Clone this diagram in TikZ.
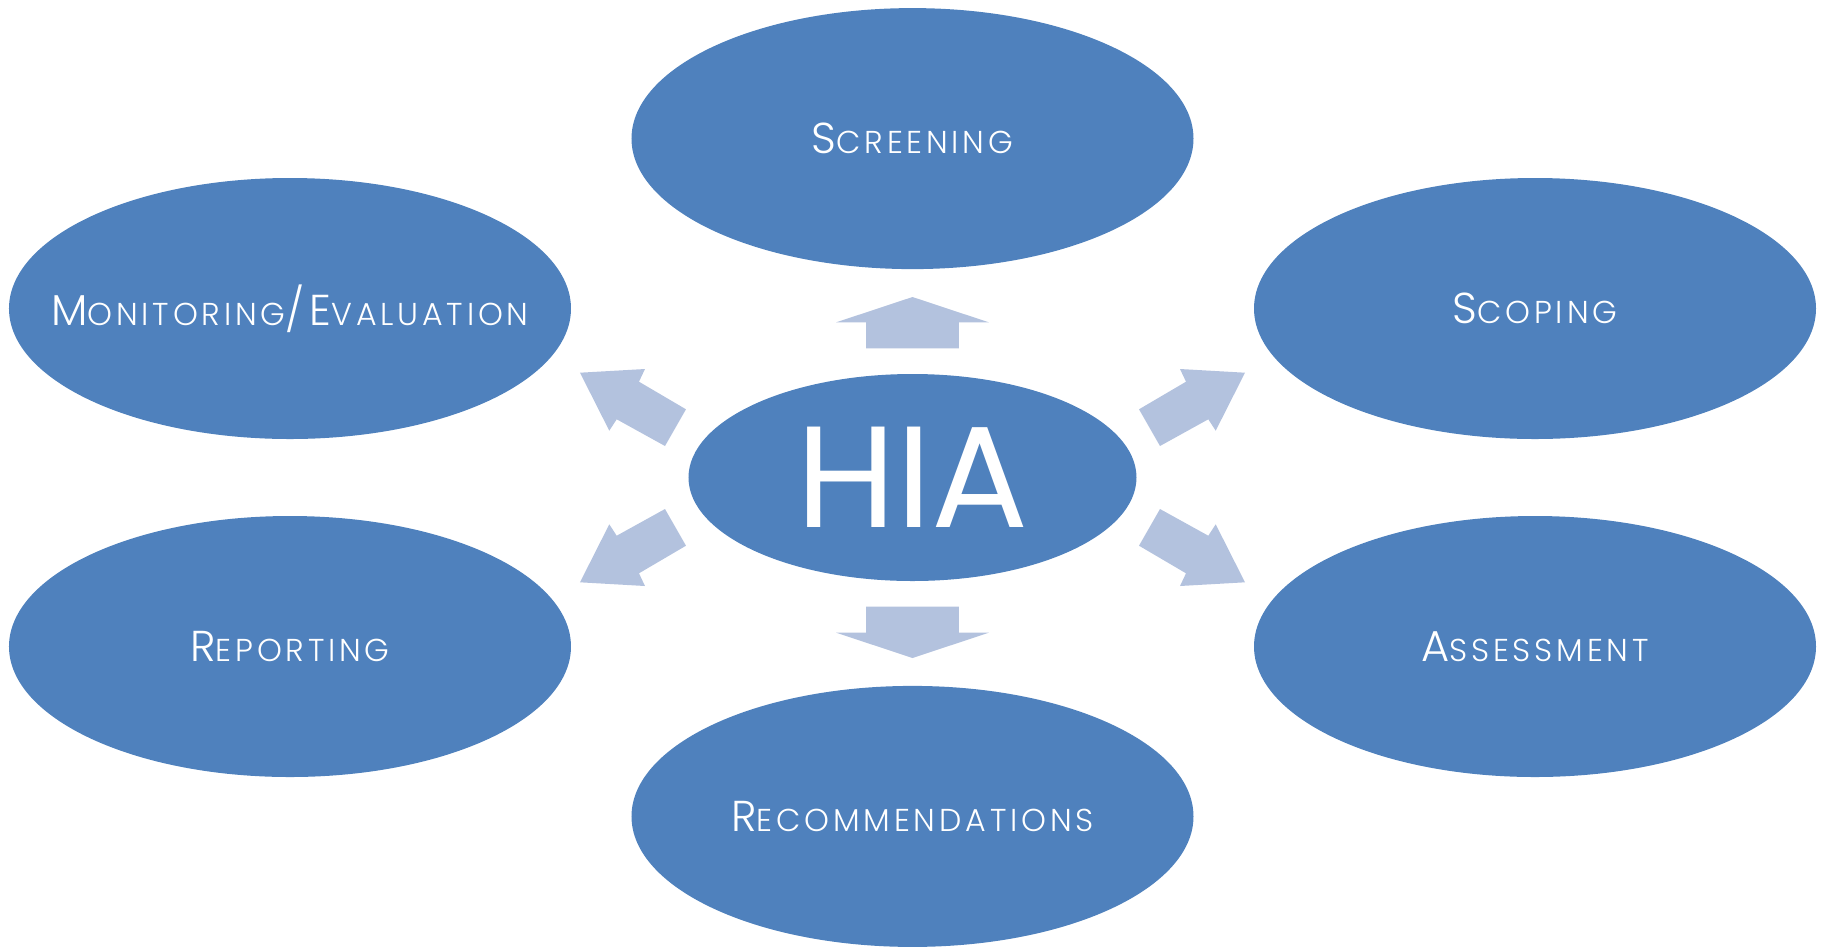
\documentclass[tikz,border=0pt]{standalone}
\usepackage{fontspec}
\setmainfont{Poppins}
\newfontfamily\stagefont[LetterSpace=12,UprightFont=* Light]{Poppins}
\usetikzlibrary{positioning,shapes.geometric}
\definecolor{stageblue}{HTML}{4F81BD}
\definecolor{arrowblue}{HTML}{B3C2DE}
% small caps by hand: first letter big, rest small
\newcommand{\smcap}[2]{{\fontsize{12.3}{14}\selectfont #1}{\fontsize{9}{11}\selectfont #2}}
\tikzset{
    %Define style for the outer stages
    stage/.style={
           ellipse,
           fill=stageblue,
           text=white,
           font=\stagefont,
           minimum width=5.62cm,
           minimum height=2.61cm,
           inner sep=0pt,
           text centered},
    %Define style for the centre
    hub/.style={
           stage,
           font=\rmfamily,
           minimum width=4.48cm,
           minimum height=2.07cm},
    blockarrow/.style={fill=arrowblue, draw=none},
    % block arrows, drawn round the centre
    diagarrow/.pic={
        \fill[blockarrow] (2.265,0.682) -- (2.475,0.315) -- (2.958,0.582)
            -- (3.032,0.468) -- (3.325,1.048) -- (2.675,1.085) -- (2.735,0.958) -- cycle;},
    vertarrow/.pic={
        \fill[blockarrow] (-0.463,1.292) -- (0.463,1.292) -- (0.463,1.552)
            -- (0.763,1.552) -- (0,1.805) -- (-0.763,1.552) -- (-0.463,1.552) -- cycle;}
}
\begin{document}
\begin{tikzpicture}
\useasboundingbox (-9.125,-4.685) rectangle (9.125,4.775);
 %nodes
\node[hub](hia) at (0,0){\fontsize{41}{48}\selectfont HIA};
\node[stage, above=1.035cm of hia](screening){\smcap{S}{CREENING}};
\node[stage, below=1.035cm of hia](recommendations){\smcap{R}{ECOMMENDATIONS}};
\node[stage](scoping) at (6.225,1.69){\smcap{S}{COPING}};
\node[stage](assessment) at (6.225,-1.69){\smcap{A}{SSESSMENT}};
\node[stage](reporting) at (-6.225,-1.69){\smcap{R}{EPORTING}};
\node[stage](monitoring) at (-6.225,1.69){\makebox[0pt]{\smcap{M}{ONITORING}\smcap{/E}{VALUATION}}};

 %arrows
\pic at (hia) {vertarrow};
\pic[yscale=-1] at (hia) {vertarrow};
\pic at (hia) {diagarrow};
\pic[yscale=-1] at (hia) {diagarrow};
\pic[xscale=-1] at (hia) {diagarrow};
\pic[scale=-1] at (hia) {diagarrow};
\end{tikzpicture}
\end{document}
